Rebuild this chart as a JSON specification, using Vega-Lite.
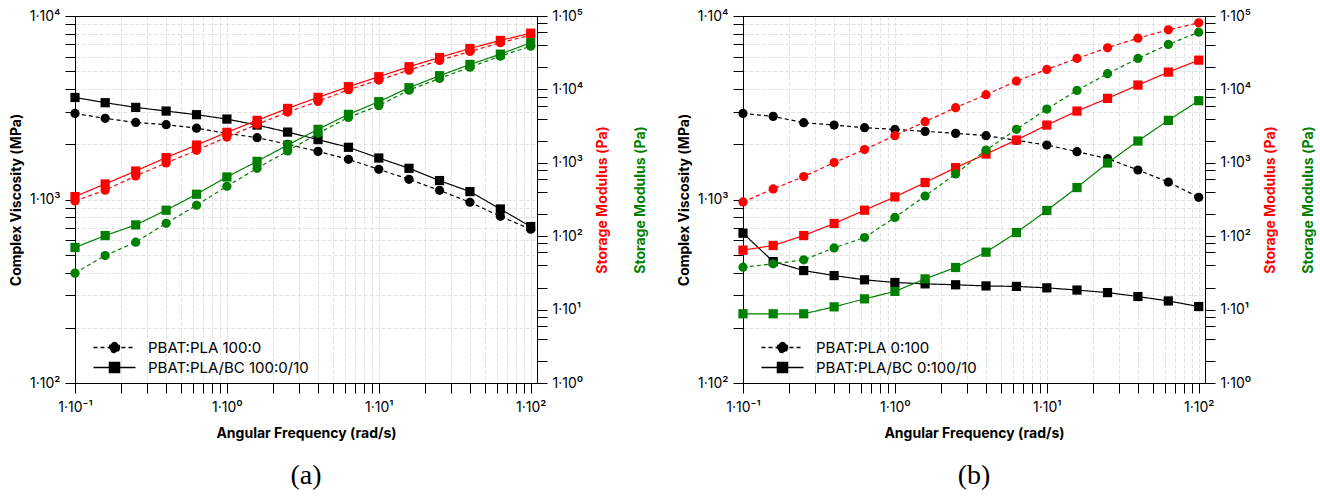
{
  "$schema": "https://vega.github.io/schema/vega-lite/v6.json",
  "background": "white",
  "padding": {"left": 8, "top": 8, "right": 5, "bottom": 5},
  "config": {
    "view": {"stroke": "black", "strokeWidth": 1},
    "font": "Inter",
    "axis": {
      "labelFont": "Inter", "labelFontSize": 14, "labelColor": "black",
      "titleFont": "Inter", "titleFontSize": 14, "titleFontWeight": "bold", "titleColor": "black",
      "domainColor": "black", "tickColor": "black", "tickSize": 10, "labelPadding": 5,
      "labelFlush": false, "labelOverlap": false, "gridWidth": 1,
      "gridColor": {"condition": {"test": "datum.value == 10000", "value": "black"}, "value": "#e2e2e2"},
      "gridDash": {"condition": {"test": "datum.value == 10000", "value": [1, 0]}, "value": [4, 2]}
    },
    "legend": {
      "title": null, "orient": "none", "symbolSize": 100, "symbolFillColor": "black", "symbolStrokeColor": "black",
      "symbolStrokeWidth": 1.5, "labelFont": "Inter", "labelFontSize": 15, "labelColor": "black", "labelOffset": 26,
      "labelLimit": 0, "rowPadding": 0, "padding": 0
    }
  },
  "data": {"values": [
    {"p":"a","s":"PBAT:PLA 100:0","w":0.1,"eta":2944,"g1":302,"g2":31.4},
    {"p":"a","s":"PBAT:PLA 100:0","w":0.158,"eta":2768,"g1":423,"g2":54.6},
    {"p":"a","s":"PBAT:PLA 100:0","w":0.251,"eta":2630,"g1":661,"g2":82.8},
    {"p":"a","s":"PBAT:PLA 100:0","w":0.398,"eta":2557,"g1":994,"g2":150},
    {"p":"a","s":"PBAT:PLA 100:0","w":0.631,"eta":2448,"g1":1479,"g2":264},
    {"p":"a","s":"PBAT:PLA 100:0","w":1,"eta":2293,"g1":2244,"g2":479},
    {"p":"a","s":"PBAT:PLA 100:0","w":1.58,"eta":2173,"g1":3342,"g2":842},
    {"p":"a","s":"PBAT:PLA 100:0","w":2.51,"eta":1997,"g1":4910,"g2":1448},
    {"p":"a","s":"PBAT:PLA 100:0","w":3.98,"eta":1829,"g1":6870,"g2":2520},
    {"p":"a","s":"PBAT:PLA 100:0","w":6.31,"eta":1655,"g1":9908,"g2":4159},
    {"p":"a","s":"PBAT:PLA 100:0","w":10,"eta":1460,"g1":13390,"g2":5998},
    {"p":"a","s":"PBAT:PLA 100:0","w":15.8,"eta":1288,"g1":18310,"g2":9777},
    {"p":"a","s":"PBAT:PLA 100:0","w":25.1,"eta":1122,"g1":24800,"g2":14120},
    {"p":"a","s":"PBAT:PLA 100:0","w":39.8,"eta":966,"g1":32890,"g2":20110},
    {"p":"a","s":"PBAT:PLA 100:0","w":63.1,"eta":810,"g1":43190,"g2":28380},
    {"p":"a","s":"PBAT:PLA 100:0","w":100,"eta":689,"g1":54800,"g2":38840},
    {"p":"a","s":"PBAT:PLA/BC 100:0/10","w":0.1,"eta":3598,"g1":347,"g2":70.2},
    {"p":"a","s":"PBAT:PLA/BC 100:0/10","w":0.158,"eta":3369,"g1":515,"g2":102},
    {"p":"a","s":"PBAT:PLA/BC 100:0/10","w":0.251,"eta":3177,"g1":773,"g2":142.5},
    {"p":"a","s":"PBAT:PLA/BC 100:0/10","w":0.398,"eta":3034,"g1":1177,"g2":226},
    {"p":"a","s":"PBAT:PLA/BC 100:0/10","w":0.631,"eta":2899,"g1":1746,"g2":373},
    {"p":"a","s":"PBAT:PLA/BC 100:0/10","w":1,"eta":2743,"g1":2600,"g2":641},
    {"p":"a","s":"PBAT:PLA/BC 100:0/10","w":1.58,"eta":2545,"g1":3786,"g2":1047},
    {"p":"a","s":"PBAT:PLA/BC 100:0/10","w":2.51,"eta":2330,"g1":5510,"g2":1746},
    {"p":"a","s":"PBAT:PLA/BC 100:0/10","w":3.98,"eta":2120,"g1":7786,"g2":2858},
    {"p":"a","s":"PBAT:PLA/BC 100:0/10","w":6.31,"eta":1925,"g1":10890,"g2":4571},
    {"p":"a","s":"PBAT:PLA/BC 100:0/10","w":10,"eta":1683,"g1":14890,"g2":6800},
    {"p":"a","s":"PBAT:PLA/BC 100:0/10","w":15.8,"eta":1479,"g1":20370,"g2":10540},
    {"p":"a","s":"PBAT:PLA/BC 100:0/10","w":25.1,"eta":1268,"g1":27250,"g2":15360},
    {"p":"a","s":"PBAT:PLA/BC 100:0/10","w":39.8,"eta":1104,"g1":36120,"g2":21880},
    {"p":"a","s":"PBAT:PLA/BC 100:0/10","w":63.1,"eta":888,"g1":46420,"g2":30220},
    {"p":"a","s":"PBAT:PLA/BC 100:0/10","w":100,"eta":712,"g1":58340,"g2":43190},
    {"p":"b","s":"PBAT:PLA 0:100","w":0.1,"eta":2944,"g1":293,"g2":37.8},
    {"p":"b","s":"PBAT:PLA 0:100","w":0.158,"eta":2838,"g1":440,"g2":42.0},
    {"p":"b","s":"PBAT:PLA 0:100","w":0.251,"eta":2622,"g1":649,"g2":47.6},
    {"p":"b","s":"PBAT:PLA 0:100","w":0.398,"eta":2545,"g1":1007,"g2":69.3},
    {"p":"b","s":"PBAT:PLA 0:100","w":0.631,"eta":2462,"g1":1513,"g2":96},
    {"p":"b","s":"PBAT:PLA 0:100","w":1,"eta":2410,"g1":2344,"g2":180},
    {"p":"b","s":"PBAT:PLA 0:100","w":1.58,"eta":2351,"g1":3637,"g2":353},
    {"p":"b","s":"PBAT:PLA 0:100","w":2.51,"eta":2293,"g1":5636,"g2":705},
    {"p":"b","s":"PBAT:PLA 0:100","w":3.98,"eta":2228,"g1":8472,"g2":1493},
    {"p":"b","s":"PBAT:PLA 0:100","w":6.31,"eta":2101,"g1":12970,"g2":2858},
    {"p":"b","s":"PBAT:PLA 0:100","w":10,"eta":1980,"g1":18710,"g2":5395},
    {"p":"b","s":"PBAT:PLA 0:100","w":15.8,"eta":1823,"g1":26400,"g2":9690},
    {"p":"b","s":"PBAT:PLA 0:100","w":25.1,"eta":1670,"g1":36930,"g2":16350},
    {"p":"b","s":"PBAT:PLA 0:100","w":39.8,"eta":1448,"g1":49880,"g2":26400},
    {"p":"b","s":"PBAT:PLA 0:100","w":63.1,"eta":1245,"g1":64900,"g2":40950},
    {"p":"b","s":"PBAT:PLA 0:100","w":100,"eta":1028,"g1":80800,"g2":60200},
    {"p":"b","s":"PBAT:PLA/BC 0:100/10","w":0.1,"eta":655,"g1":64.6,"g2":8.77},
    {"p":"b","s":"PBAT:PLA/BC 0:100/10","w":0.158,"eta":459,"g1":74.7,"g2":8.77},
    {"p":"b","s":"PBAT:PLA/BC 0:100/10","w":0.251,"eta":410,"g1":102,"g2":8.77},
    {"p":"b","s":"PBAT:PLA/BC 0:100/10","w":0.398,"eta":385,"g1":149,"g2":10.9},
    {"p":"b","s":"PBAT:PLA/BC 0:100/10","w":0.631,"eta":365,"g1":226,"g2":14.0},
    {"p":"b","s":"PBAT:PLA/BC 0:100/10","w":1,"eta":353,"g1":343,"g2":17.7},
    {"p":"b","s":"PBAT:PLA/BC 0:100/10","w":1.58,"eta":347,"g1":538,"g2":26.2},
    {"p":"b","s":"PBAT:PLA/BC 0:100/10","w":2.51,"eta":343,"g1":861,"g2":37.5},
    {"p":"b","s":"PBAT:PLA/BC 0:100/10","w":3.98,"eta":338,"g1":1318,"g2":60.6},
    {"p":"b","s":"PBAT:PLA/BC 0:100/10","w":6.31,"eta":336,"g1":2042,"g2":112},
    {"p":"b","s":"PBAT:PLA/BC 0:100/10","w":10,"eta":330,"g1":3266,"g2":224},
    {"p":"b","s":"PBAT:PLA/BC 0:100/10","w":15.8,"eta":321,"g1":5070,"g2":460},
    {"p":"b","s":"PBAT:PLA/BC 0:100/10","w":25.1,"eta":311,"g1":7545,"g2":994},
    {"p":"b","s":"PBAT:PLA/BC 0:100/10","w":39.8,"eta":296,"g1":11450,"g2":1980},
    {"p":"b","s":"PBAT:PLA/BC 0:100/10","w":63.1,"eta":280,"g1":17200,"g2":3786},
    {"p":"b","s":"PBAT:PLA/BC 0:100/10","w":100,"eta":261,"g1":25040,"g2":7015}
  ]},
  "transform": [{"calculate": "datum.s", "as": "s2"}],
  "spacing": 28,
  "resolve": {"scale": {"shape": "independent", "strokeDash": "independent", "opacity": "independent", "x": "independent", "y": "independent"}, "legend": {"strokeDash": "independent", "opacity": "independent"}},
  "hconcat": [
    {
      "width": 462, "height": 367,
      "title": {"text": "(a)", "orient": "bottom", "frame": "group", "font": "Liberation Serif", "fontSize": 28, "fontWeight": "normal", "color": "black", "offset": 22},
      "transform": [{"filter": "datum.p == 'a'"}],
      "encoding": {
        "x": {"field": "w", "type": "quantitative", "scale": {"type": "log", "domain": [0.1, 110], "nice": false},
          "axis": {"title": "Angular Frequency (rad/s)", "titlePadding": 12, "labelPadding": 7, "grid": true,
            "values": [0.1,0.2,0.3,0.4,0.5,0.6,0.7,0.8,0.9,1,2,3,4,5,6,7,8,9,10,20,30,40,50,60,70,80,90,100],
            "labelExpr": "datum.value==0.1?'1·10⁻¹':datum.value==1?'1·10⁰':datum.value==10?'1·10¹':datum.value==100?'1·10²':''",
            "encode": {"ticks": {"y2": {"value": {"expr": "indexof([0.1,1,10,100], datum.value) >= 0 ? 10 : 6"}}}}}}
      },
      "layer": [
        {
          "encoding": {"y": {"field": "eta", "type": "quantitative", "scale": {"type": "log", "domain": [100, 10000], "nice": false},
            "axis": {"orient": "left", "title": "Complex Viscosity (MPa)", "grid": true, "titlePadding": 6,
              "values": [100,200,300,400,500,600,700,800,900,1000,2000,3000,4000,5000,6000,7000,8000,9000,10000],
              "labelExpr": "datum.value==100?'1·10²':datum.value==1000?'1·10³':datum.value==10000?'1·10⁴':''",
              "encode": {"ticks": {"x2": {"value": {"expr": "indexof([100,1000,10000], datum.value) >= 0 ? -10 : -6"}}}}}}},
          "layer": [
            {"mark": {"type": "line", "color": "black", "strokeWidth": 1.2},
             "encoding": {
               "strokeDash": {"field": "s", "type": "nominal", "scale": {"range": [[4, 3], [1, 0]]},
                 "legend": {"values": ["PBAT:PLA 100:0"], "legendX": 32, "legendY": 324,
                   "symbolType": "M-4.2,0H4.2M1,0A1,1,0,1,1,-1,0A1,1,0,1,1,1,0Z"}},
               "opacity": {"field": "s2", "type": "nominal", "scale": {"range": [1, 1]},
                 "legend": {"values": ["PBAT:PLA/BC 100:0/10"], "legendX": 32, "legendY": 344,
                   "symbolType": "M-4.2,0H4.2M-1,-1H1V1H-1Z"}}}},
            {"mark": {"type": "point", "filled": true, "color": "black", "opacity": 1, "size": 85},
             "encoding": {"shape": {"field": "s", "type": "nominal", "scale": {"range": ["circle", "square"]}, "legend": null}}}
          ]
        },
        {
          "encoding": {"y": {"field": "g1", "type": "quantitative", "scale": {"type": "log", "domain": [1, 100000], "nice": false},
            "axis": {"orient": "right", "title": "Storage Modulus (Pa)", "titleColor": "#ff0000", "titleAngle": 270, "titleBaseline": "top", "titlePadding": 13, "grid": false,
              "values": [1,2,4,6,8,10,20,40,60,80,100,200,400,600,800,1000,2000,4000,6000,8000,10000,20000,40000,60000,80000,100000],
              "labelExpr": "datum.value==1?'1·10⁰':datum.value==10?'1·10¹':datum.value==100?'1·10²':datum.value==1000?'1·10³':datum.value==10000?'1·10⁴':datum.value==100000?'1·10⁵':''",
              "encode": {"ticks": {"x2": {"value": {"expr": "indexof([1,10,100,1000,10000,100000], datum.value) >= 0 ? 10 : 6"}}}}}}},
          "layer": [
            {"mark": {"type": "line", "color": "#ff0000", "strokeWidth": 1.2},
             "encoding": {"strokeDash": {"field": "s", "type": "nominal", "legend": null}}},
            {"mark": {"type": "point", "filled": true, "color": "#ff0000", "opacity": 1, "size": 85},
             "encoding": {"shape": {"field": "s", "type": "nominal", "legend": null}}}
          ]
        },
        {
          "encoding": {"y": {"field": "g2", "type": "quantitative", "scale": {"type": "log", "domain": [1, 100000], "nice": false},
            "axis": {"orient": "right", "title": "Storage Modulus (Pa)", "titleColor": "#008000", "titleAngle": 270, "titleBaseline": "top", "titlePadding": 96, "grid": false, "labels": false, "ticks": false, "domain": false}}},
          "layer": [
            {"mark": {"type": "line", "color": "#008000", "strokeWidth": 1.2},
             "encoding": {"strokeDash": {"field": "s", "type": "nominal", "legend": null}}},
            {"mark": {"type": "point", "filled": true, "color": "#008000", "opacity": 1, "size": 85},
             "encoding": {"shape": {"field": "s", "type": "nominal", "legend": null}}}
          ]
        }
      ],
      "resolve": {"scale": {"y": "independent"}}
    },
    {
      "width": 462, "height": 367,
      "title": {"text": "(b)", "orient": "bottom", "frame": "group", "font": "Liberation Serif", "fontSize": 28, "fontWeight": "normal", "color": "black", "offset": 22},
      "transform": [{"filter": "datum.p == 'b'"}],
      "encoding": {
        "x": {"field": "w", "type": "quantitative", "scale": {"type": "log", "domain": [0.1, 110], "nice": false},
          "axis": {"title": "Angular Frequency (rad/s)", "titlePadding": 12, "labelPadding": 7, "grid": true,
            "values": [0.1,0.2,0.3,0.4,0.5,0.6,0.7,0.8,0.9,1,2,3,4,5,6,7,8,9,10,20,30,40,50,60,70,80,90,100],
            "labelExpr": "datum.value==0.1?'1·10⁻¹':datum.value==1?'1·10⁰':datum.value==10?'1·10¹':datum.value==100?'1·10²':''",
            "encode": {"ticks": {"y2": {"value": {"expr": "indexof([0.1,1,10,100], datum.value) >= 0 ? 10 : 6"}}}}}}
      },
      "layer": [
        {
          "encoding": {"y": {"field": "eta", "type": "quantitative", "scale": {"type": "log", "domain": [100, 10000], "nice": false},
            "axis": {"orient": "left", "title": "Complex Viscosity (MPa)", "grid": true, "titlePadding": 6,
              "values": [100,200,300,400,500,600,700,800,900,1000,2000,3000,4000,5000,6000,7000,8000,9000,10000],
              "labelExpr": "datum.value==100?'1·10²':datum.value==1000?'1·10³':datum.value==10000?'1·10⁴':''",
              "encode": {"ticks": {"x2": {"value": {"expr": "indexof([100,1000,10000], datum.value) >= 0 ? -10 : -6"}}}}}}},
          "layer": [
            {"mark": {"type": "line", "color": "black", "strokeWidth": 1.2},
             "encoding": {
               "strokeDash": {"field": "s", "type": "nominal", "scale": {"range": [[4, 3], [1, 0]]},
                 "legend": {"values": ["PBAT:PLA 0:100"], "legendX": 32, "legendY": 324,
                   "symbolType": "M-4.2,0H4.2M1,0A1,1,0,1,1,-1,0A1,1,0,1,1,1,0Z"}},
               "opacity": {"field": "s2", "type": "nominal", "scale": {"range": [1, 1]},
                 "legend": {"values": ["PBAT:PLA/BC 0:100/10"], "legendX": 32, "legendY": 344,
                   "symbolType": "M-4.2,0H4.2M-1,-1H1V1H-1Z"}}}},
            {"mark": {"type": "point", "filled": true, "color": "black", "opacity": 1, "size": 85},
             "encoding": {"shape": {"field": "s", "type": "nominal", "scale": {"range": ["circle", "square"]}, "legend": null}}}
          ]
        },
        {
          "encoding": {"y": {"field": "g1", "type": "quantitative", "scale": {"type": "log", "domain": [1, 100000], "nice": false},
            "axis": {"orient": "right", "title": "Storage Modulus (Pa)", "titleColor": "#ff0000", "titleAngle": 270, "titleBaseline": "top", "titlePadding": 13, "grid": false,
              "values": [1,2,4,6,8,10,20,40,60,80,100,200,400,600,800,1000,2000,4000,6000,8000,10000,20000,40000,60000,80000,100000],
              "labelExpr": "datum.value==1?'1·10⁰':datum.value==10?'1·10¹':datum.value==100?'1·10²':datum.value==1000?'1·10³':datum.value==10000?'1·10⁴':datum.value==100000?'1·10⁵':''",
              "encode": {"ticks": {"x2": {"value": {"expr": "indexof([1,10,100,1000,10000,100000], datum.value) >= 0 ? 10 : 6"}}}}}}},
          "layer": [
            {"mark": {"type": "line", "color": "#ff0000", "strokeWidth": 1.2},
             "encoding": {"strokeDash": {"field": "s", "type": "nominal", "legend": null}}},
            {"mark": {"type": "point", "filled": true, "color": "#ff0000", "opacity": 1, "size": 85},
             "encoding": {"shape": {"field": "s", "type": "nominal", "legend": null}}}
          ]
        },
        {
          "encoding": {"y": {"field": "g2", "type": "quantitative", "scale": {"type": "log", "domain": [1, 100000], "nice": false},
            "axis": {"orient": "right", "title": "Storage Modulus (Pa)", "titleColor": "#008000", "titleAngle": 270, "titleBaseline": "top", "titlePadding": 96, "grid": false, "labels": false, "ticks": false, "domain": false}}},
          "layer": [
            {"mark": {"type": "line", "color": "#008000", "strokeWidth": 1.2},
             "encoding": {"strokeDash": {"field": "s", "type": "nominal", "legend": null}}},
            {"mark": {"type": "point", "filled": true, "color": "#008000", "opacity": 1, "size": 85},
             "encoding": {"shape": {"field": "s", "type": "nominal", "legend": null}}}
          ]
        }
      ],
      "resolve": {"scale": {"y": "independent"}}
    }
  ]
}
